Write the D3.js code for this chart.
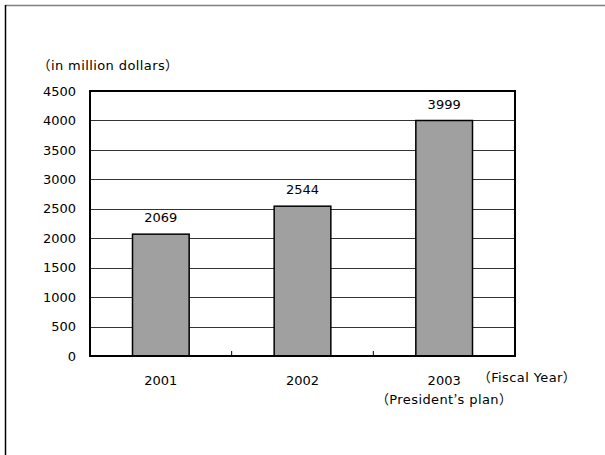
<!DOCTYPE html>
<html><head><meta charset="utf-8">
<script src="https://cdn.jsdelivr.net/npm/d3@7"></script>
<style>
body{margin:0;background:#fff;}
svg{text-spacing-trim:space-all;}
text{font-family:"DejaVu Sans",sans-serif;font-size:13px;fill:#000;text-spacing-trim:space-all;}
text.lbl{letter-spacing:0.4px;}
tspan.w{font-family:"Noto Sans CJK JP";}
</style></head><body>
<svg id="c" width="605" height="455"></svg>
<script>
const categories = ["2001", "2002", "2003"];
const values = [2069, 2544, 3999];
const yTicks = [0, 500, 1000, 1500, 2000, 2500, 3000, 3500, 4000, 4500];
const unitLabel = "（in million dollars）";
const xAxisLabel = "（Fiscal Year）";
const subLabel = "（President’s plan）";

(function(){
const svg = d3.select("#c");
const pL = 90, pR = 515, pT = 91, pB = 356;

function richText(sel, str) {
  const parts = str.match(/([\uFF00-\uFFEF\u2019]+|[^\uFF00-\uFFEF\u2019]+)/g);
  parts.forEach(p => {
    const t = sel.append("tspan").text(p);
    if (/[\uFF00-\uFFEF\u2019]/.test(p)) t.attr("class", "w");
  });
  return sel;
}

// outer border lines
svg.append("line").attr("x1",5).attr("x2",605).attr("y1",5.5).attr("y2",5.5).attr("stroke","#808080").attr("stroke-width",1.5);
svg.append("line").attr("x1",5.5).attr("x2",5.5).attr("y1",5).attr("y2",455).attr("stroke","#000").attr("stroke-width",1.5);

const x = d3.scaleBand().domain(categories).range([pL, pR]).paddingInner(0).paddingOuter(0);
const y = d3.scaleLinear().domain([0, 4500]).range([pB, pT]);

// gridlines
svg.append("g").selectAll("line").data(yTicks.filter(t => t > 0 && t < 4500)).join("line")
  .attr("x1", pL).attr("x2", pR)
  .attr("y1", d => Math.round(y(d)) + 0.5).attr("y2", d => Math.round(y(d)) + 0.5)
  .attr("stroke", "#333").attr("stroke-width", 1);

// y labels
svg.append("g").selectAll("text").data(yTicks).join("text")
  .attr("x", 76).attr("y", d => y(d)).attr("dy", "0.36em")
  .attr("text-anchor", "end").text(d => d);

// bars
const bw = x.bandwidth() * 0.4;
svg.append("g").selectAll("rect").data(values).join("rect")
  .attr("x", (d, i) => x(categories[i]) + x.bandwidth() / 2 - bw / 2)
  .attr("width", bw)
  .attr("y", d => y(d)).attr("height", d => pB - y(d))
  .attr("fill", "#a0a0a0").attr("stroke", "#000").attr("stroke-width", 1.5);

// value labels
svg.append("g").selectAll("text").data(values).join("text")
  .attr("x", (d, i) => x(categories[i]) + x.bandwidth() / 2)
  .attr("y", d => y(d) - 12)
  .attr("text-anchor", "middle").text(d => d);

// category boundary ticks
svg.append("g").selectAll("line").data(categories.slice(1)).join("line")
  .attr("x1", d => x(d)).attr("x2", d => x(d))
  .attr("y1", pB).attr("y2", pB - 5)
  .attr("stroke", "#000").attr("stroke-width", 1);

// frame
svg.append("rect").attr("x", pL).attr("y", pT).attr("width", pR - pL).attr("height", pB - pT)
  .attr("fill", "none").attr("stroke", "#000").attr("stroke-width", 2);

// category labels
svg.append("g").selectAll("text").data(categories).join("text")
  .attr("x", d => x(d) + x.bandwidth() / 2).attr("y", 385)
  .attr("text-anchor", "middle").text(d => d);

richText(svg.append("text").attr("class","lbl").attr("x", x("2003") + x.bandwidth() / 2).attr("y", 404)
  .attr("text-anchor", "middle"), subLabel);
richText(svg.append("text").attr("class","lbl").attr("x", 527).attr("y", 382)
  .attr("text-anchor", "middle"), xAxisLabel);
richText(svg.append("text").attr("class","lbl").attr("x", 108).attr("y", 70)
  .attr("text-anchor", "middle"), unitLabel);
})();
</script></body></html>
